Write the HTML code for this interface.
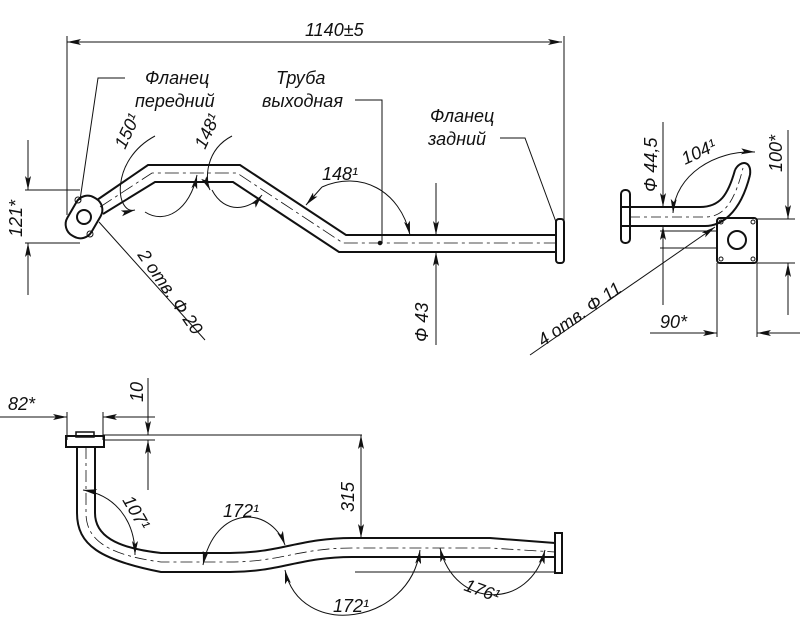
<!DOCTYPE html>
<html><head><meta charset="utf-8"><style>
html,body{margin:0;padding:0;background:#fff}
svg{display:block}
text{font-family:"Liberation Sans",sans-serif;font-style:italic;font-size:18px;fill:#111}
</style></head><body>
<svg width="800" height="639" viewBox="0 0 800 639" xmlns="http://www.w3.org/2000/svg">
<defs>
<marker id="a" viewBox="0 0 14 6" refX="14" refY="3" markerWidth="14" markerHeight="6" orient="auto-start-reverse" markerUnits="userSpaceOnUse"><path d="M0,0 L14,3 L0,6 L3,3z" fill="#111"/></marker>
</defs>
<g stroke="#111" stroke-width="1" fill="none">
<!-- TOP VIEW -->
<line x1="67" y1="42" x2="562" y2="42" marker-start="url(#a)" marker-end="url(#a)"/>
<line x1="67" y1="36" x2="67" y2="215"/>
<line x1="564" y1="36" x2="564" y2="222"/>
<path d="M97,200 L148,165 L240,165 L346,235 L557,235" stroke-width="2"/>
<path d="M103,214 L155,182 L233,182 L339,252 L557,252" stroke-width="2"/>
<path d="M100,207 L152,173 L237,173 L343,243 L557,243" stroke-dasharray="14,4,3,4" stroke-width="0.8"/>
<g transform="rotate(-60 84 217)"><rect x="62" y="203" width="44" height="28" rx="13" stroke-width="2"/></g>
<circle cx="84" cy="217" r="7" stroke-width="2"/>
<circle cx="78" cy="200" r="3"/><circle cx="90" cy="234" r="3"/>
<rect x="556" y="219" width="8" height="44" rx="3" stroke-width="2"/>
<line x1="25" y1="190" x2="80" y2="190"/><line x1="25" y1="243" x2="80" y2="243"/>
<line x1="28" y1="140" x2="28" y2="190" marker-end="url(#a)"/>
<line x1="28" y1="295" x2="28" y2="243" marker-end="url(#a)"/>
<path d="M125,78 L98,78 L80,200"/>
<line x1="99" y1="222" x2="205" y2="340"/>
<path d="M355,100 L382,100 L382,243"/>
<circle cx="380" cy="243" r="1.8" fill="#111"/>
<path d="M500,138 L525,138 L556,222"/>
<line x1="436" y1="183" x2="436" y2="235" marker-end="url(#a)"/>
<line x1="436" y1="345" x2="436" y2="252" marker-end="url(#a)"/>
<path d="M155,136 C110,160 115,215 135,210" marker-end="url(#a)"/>
<path d="M145,212 C165,225 190,210 197,175" marker-end="url(#a)"/>
<path d="M232,136 C205,150 205,180 210,190" marker-end="url(#a)"/>
<path d="M212,190 C225,215 250,210 262,195" marker-end="url(#a)"/>
<path d="M322,187 C360,170 400,190 410,235" marker-end="url(#a)"/>
<line x1="322" y1="187" x2="306" y2="205" marker-end="url(#a)"/>
<!-- SIDE VIEW -->
<rect x="621" y="190" width="9" height="53" rx="4" stroke-width="2"/>
<path d="M620,207 L700,207 C720,207 728,195 735,170" stroke-width="2"/>
<path d="M620,226 L705,226 C720,226 740,215 750,175" stroke-width="2"/>
<path d="M735,170 C740,160 752,160 750,175" stroke-width="2"/>
<path d="M630,217 L705,217 C725,217 735,200 743,168" stroke-dasharray="10,4,3,4" stroke-width="0.8"/>
<rect x="717" y="218" width="40" height="45" rx="3" stroke-width="2"/>
<circle cx="737" cy="240" r="9" stroke-width="2"/>
<circle cx="721" cy="222" r="2"/><circle cx="753" cy="222" r="2"/><circle cx="721" cy="259" r="2"/><circle cx="753" cy="259" r="2"/>
<line x1="663" y1="122" x2="663" y2="207" marker-end="url(#a)"/>
<line x1="663" y1="305" x2="663" y2="226" marker-end="url(#a)"/>
<line x1="660" y1="248" x2="717" y2="248"/><line x1="660" y1="231" x2="717" y2="231"/>
<path d="M673,213 C675,175 715,150 755,152" marker-start="url(#a)" marker-end="url(#a)"/>
<line x1="757" y1="219" x2="795" y2="219"/><line x1="757" y1="263" x2="795" y2="263"/>
<line x1="788" y1="130" x2="788" y2="219" marker-end="url(#a)"/>
<line x1="788" y1="315" x2="788" y2="263" marker-end="url(#a)"/>
<line x1="717" y1="263" x2="717" y2="337"/><line x1="757" y1="263" x2="757" y2="337"/>
<line x1="650" y1="333" x2="717" y2="333" marker-end="url(#a)"/>
<line x1="800" y1="333" x2="757" y2="333" marker-end="url(#a)"/>
<line x1="530" y1="355" x2="715" y2="227" marker-end="url(#a)"/>
<!-- BOTTOM VIEW -->
<line x1="0" y1="417" x2="67" y2="417" marker-end="url(#a)"/>
<line x1="155" y1="417" x2="103" y2="417" marker-end="url(#a)"/>
<line x1="67" y1="412" x2="67" y2="440"/><line x1="103" y1="412" x2="103" y2="440"/>
<line x1="103" y1="435" x2="362" y2="435"/><line x1="103" y1="440" x2="155" y2="440"/>
<line x1="148" y1="378" x2="148" y2="435" marker-end="url(#a)"/>
<line x1="148" y1="490" x2="148" y2="440" marker-end="url(#a)"/>
<rect x="66" y="436" width="38" height="11" stroke-width="2"/>
<rect x="76" y="432" width="18" height="5" stroke-width="1.5"/>
<path d="M77,447 L77,513 C77,545 100,560 161,572 L230,572 C280,572 300,557 352,557 L555,557" stroke-width="2"/>
<path d="M95,447 L95,513 C95,535 115,548 161,553 L230,553 C280,553 300,538 352,538 L490,538 L555,543" stroke-width="2"/>
<path d="M86,447 L86,513 C86,540 108,555 161,562 L230,562 C280,562 300,548 352,548 L490,548 L555,552" stroke-dasharray="12,4,3,4" stroke-width="0.8"/>
<rect x="555" y="533" width="7" height="40" stroke-width="2"/>
<line x1="361" y1="435" x2="361" y2="538" marker-start="url(#a)" marker-end="url(#a)"/>
<line x1="355" y1="572" x2="555" y2="572"/>
<path d="M83,490 C115,495 135,520 135,555" marker-start="url(#a)" marker-end="url(#a)"/>
<path d="M203,565 C215,505 270,505 285,545" marker-start="url(#a)" marker-end="url(#a)"/>
<path d="M285,570 C300,640 410,625 420,550" marker-start="url(#a)" marker-end="url(#a)"/>
<path d="M440,548 C455,610 530,610 545,550" marker-start="url(#a)" marker-end="url(#a)"/>
</g>
<text x="305" y="36">1140±5</text>
<text x="145" y="84">Фланец</text>
<text x="135" y="107">передний</text>
<text x="276" y="84">Труба</text>
<text x="262" y="107">выходная</text>
<text x="430" y="122">Фланец</text>
<text x="428" y="145">задний</text>
<text transform="translate(125,150) rotate(-65)">150¹</text>
<text transform="translate(205,150) rotate(-65)">148¹</text>
<text x="322" y="180">148¹</text>
<text transform="translate(22,237) rotate(-90)">121*</text>
<text transform="translate(137,255) rotate(55)">2 отв. Ф 20</text>
<text transform="translate(428,342) rotate(-90)">Ф 43</text>
<text transform="translate(657,192) rotate(-90)">Ф 44,5</text>
<text transform="translate(685,165) rotate(-25)">104¹</text>
<text transform="translate(782,172) rotate(-90)">100*</text>
<text x="660" y="328">90*</text>
<text transform="translate(543,347) rotate(-35)">4 отв. Ф 11</text>
<text x="8" y="410">82*</text>
<text transform="translate(143,402) rotate(-90)">10</text>
<text transform="translate(354,512) rotate(-90)">315</text>
<text transform="translate(122,500) rotate(60)">107¹</text>
<text x="223" y="517">172¹</text>
<text x="333" y="612">172¹</text>
<text transform="translate(463,590) rotate(20)">176¹</text>
</svg>
</body></html>
